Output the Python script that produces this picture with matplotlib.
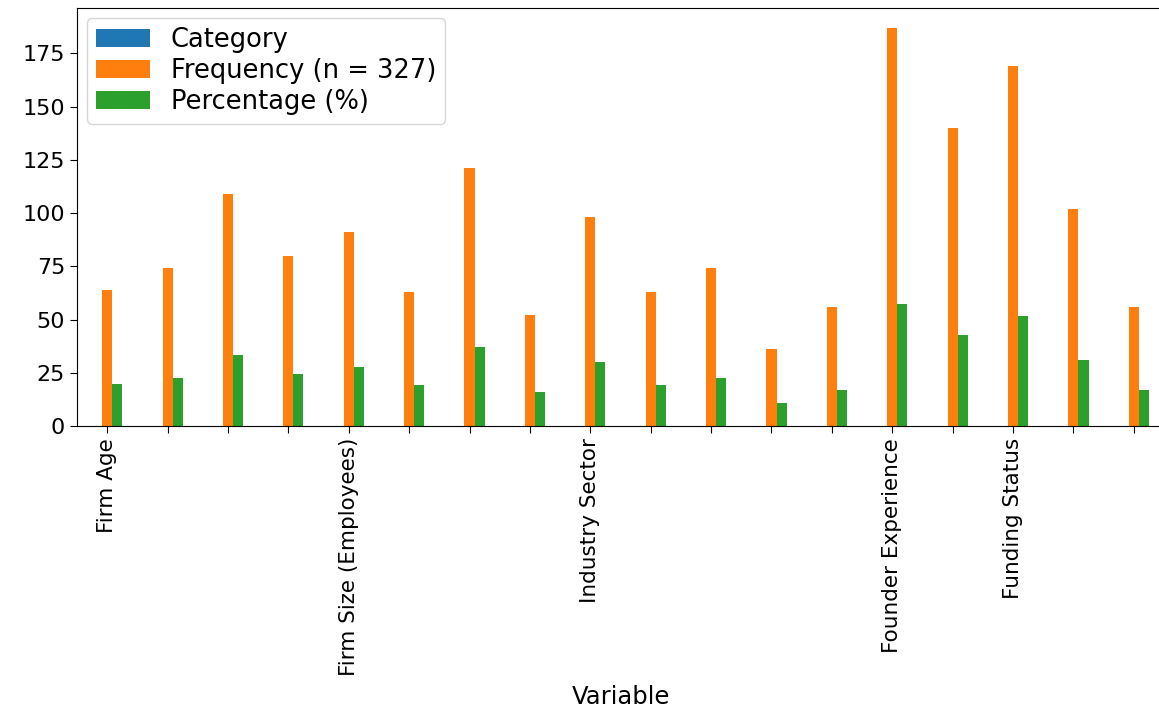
import matplotlib
matplotlib.use("Agg")
import matplotlib.pyplot as plt
import numpy as np

tick_labels = ["Firm Age", "", "", "",
               "Firm Size (Employees)", "", "", "",
               "Industry Sector", "", "", "", "",
               "Founder Experience", "",
               "Funding Status", "", ""]
category = [np.nan] * 18
frequency = [64, 74, 109, 80, 91, 63, 121, 52, 98, 63, 74, 36, 56, 187, 140, 169, 102, 56]
percentage = [19.6, 22.6, 33.3, 24.5, 27.8, 19.3, 37.0, 15.9, 30.0, 19.3, 22.6, 11.0, 17.1,
              57.2, 42.8, 51.7, 31.2, 17.1]

series = [("Category", category, "#1f77b4"),
          ("Frequency (n = 327)", frequency, "#ff7f0e"),
          ("Percentage (%)", percentage, "#2ca02c")]

plt.rcParams['font.size'] = 16
fig = plt.figure(figsize=(11.59, 7.13), dpi=100)
ax = fig.add_axes([77 / 1159, 1 - 426 / 713, (1164 - 77) / 1159, (426 - 8) / 713])

x = np.arange(len(frequency))
w = 0.5 / 3
for i, (name, vals, col) in enumerate(series):
    ax.bar(x + (i - 1) * w, vals, width=w, color=col, label=name)

ax.set_xlim(-0.5, len(frequency) - 0.5)
ax.set_ylim(0, max(frequency) * 1.05)
ax.set_xticks(x)
ax.set_xticklabels(tick_labels, rotation=90, fontsize=15.5)
ax.set_yticks([0, 25, 50, 75, 100, 125, 150, 175])
ax.tick_params(axis='y', labelsize=16, length=5)
ax.tick_params(axis='x', length=5)
ax.set_xlabel("Variable", fontsize=17.5, labelpad=6)
ax.legend(loc="upper left", fontsize=18.5, labelspacing=0.18, handlelength=2.1,
          borderaxespad=0.4, borderpad=0.35)

fig.savefig("out.png", dpi=100)
